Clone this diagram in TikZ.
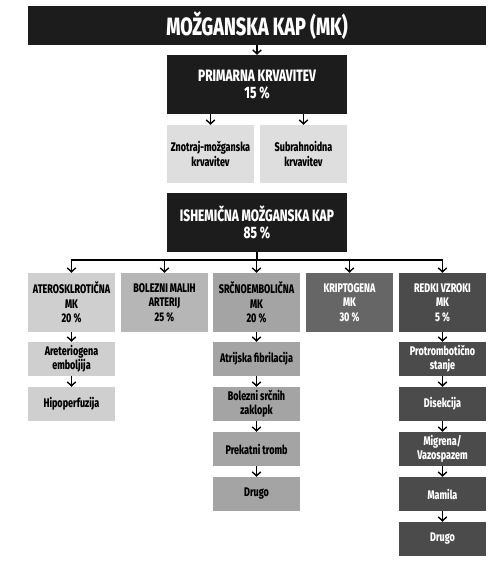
\documentclass[tikz,border=0pt]{standalone}
\usepackage{fontspec}
\setmainfont{Fira Sans}[FakeStretch=0.72, BoldFont={Fira Sans ExtraBold}, BoldFeatures={FakeStretch=0.72}]
\usetikzlibrary{arrows.meta}
\definecolor{cblack}{HTML}{1C1C1C}
\definecolor{clight}{HTML}{DEDEDE}
\definecolor{cA}{HTML}{CFCFCF}
\definecolor{cB}{HTML}{B6B6B6}
\definecolor{cC}{HTML}{A4A4A4}
\definecolor{cD}{HTML}{666666}
\definecolor{cE}{HTML}{4B4B4B}
\tikzset{
  x=1pt,y=1pt,
  bx/.style={inner sep=0pt, align=center, font=\bfseries\fontsize{12.5}{14.5}\selectfont},
  sm/.style={bx, minimum width=87pt, minimum height=34pt},
  top/.style={bx, minimum width=180pt, minimum height=59pt, fill=cblack, text=white, font=\bfseries\fontsize{16.5}{17.5}\selectfont},
  cat/.style={bx, minimum width=87pt, minimum height=59pt, font=\bfseries\fontsize{12.5}{14.5}\selectfont},
  arr/.style={line width=1.4pt, -{Straight Barb[length=4pt,width=8.5pt,line width=1.4pt]}}
}
\begin{document}
\begin{tikzpicture}
\useasboundingbox (0,0) rectangle (500,-574);
% title
\node[bx, minimum width=458pt, minimum height=39pt, fill=cblack, text=white, font=\bfseries\fontsize{25}{28}\selectfont] (mk) at (257,-25.5) {MOŽGANSKA KAP (MK)};
% primary
\node[top] (prim) at (257,-84.5) {PRIMARNA KRVAVITEV\\15\,\%};
\node[bx, fill=clight, minimum width=87pt, minimum height=58pt] (zn) at (210.5,-154) {Znotraj-možganska\\krvavitev};
\node[bx, fill=clight, minimum width=87pt, minimum height=58pt] (sub) at (303.5,-154) {Subrahnoidna\\krvavitev};
% ischemic
\node[top] (isch) at (257,-222.5) {ISHEMIČNA MOŽGANSKA KAP\\85\,\%};
% categories
\node[cat, fill=cA] (c1) at (71.5,-302.5) {ATEROSKLROTIČNA\\MK\\20\,\%};
\node[cat, fill=cB] (c2) at (164.5,-302.5) {BOLEZNI MALIH\\ARTERIJ\\25\,\%};
\node[cat, fill=cC] (c3) at (256.5,-302.5) {SRČNOEMBOLIČNA\\MK\\20\,\%};
\node[cat, fill=cD, text=white] (c4) at (349.5,-302.5) {KRIPTOGENA\\MK\\30\,\%};
\node[cat, fill=cE, text=white] (c5) at (442.5,-302.5) {REDKI VZROKI\\MK\\5\,\%};
% column 1
\node[sm, fill=cA] (a1) at (71.5,-359) {Areteriogena\\emboljija};
\node[sm, fill=cA] (a2) at (71.5,-404) {Hipoperfuzija};
% column 3
\node[sm, fill=cC] (s1) at (256.5,-359) {Atrijska fibrilacija};
\node[sm, fill=cC] (s2) at (256.5,-404) {Bolezni srčnih\\zaklopk};
\node[sm, fill=cC] (s3) at (256.5,-449) {Prekatni tromb};
\node[sm, fill=cC] (s4) at (256.5,-494) {Drugo};
% column 5
\node[sm, fill=cE, text=white] (r1) at (442.5,-359) {Protrombotično\\stanje};
\node[sm, fill=cE, text=white] (r2) at (442.5,-404) {Disekcija};
\node[sm, fill=cE, text=white] (r3) at (442.5,-449) {Migrena/\\Vazospazem};
\node[sm, fill=cE, text=white] (r4) at (442.5,-494) {Mamila};
\node[sm, fill=cE, text=white] (r5) at (442.5,-539) {Drugo};
% connectors
\draw[arr] (mk.south) -- (prim.north);
\draw[arr] (prim.south -| zn.north) -- (zn.north);
\draw[arr] (prim.south -| sub.north) -- (sub.north);
\coordinate (bar) at (257,-260);
\draw[line width=1.4pt] (isch.south) -- (bar);
\foreach \c in {c1,c2,c3,c4,c5}{
  \draw[arr] (bar) -| (\c.north);
}
\draw[arr] (c1) -- (a1);
\draw[arr] (a1) -- (a2);
\draw[arr] (c3) -- (s1);
\draw[arr] (s1) -- (s2);
\draw[arr] (s2) -- (s3);
\draw[arr] (s3) -- (s4);
\draw[arr] (c5) -- (r1);
\draw[arr] (r1) -- (r2);
\draw[arr] (r2) -- (r3);
\draw[arr] (r3) -- (r4);
\draw[arr] (r4) -- (r5);
\end{tikzpicture}
\end{document}
